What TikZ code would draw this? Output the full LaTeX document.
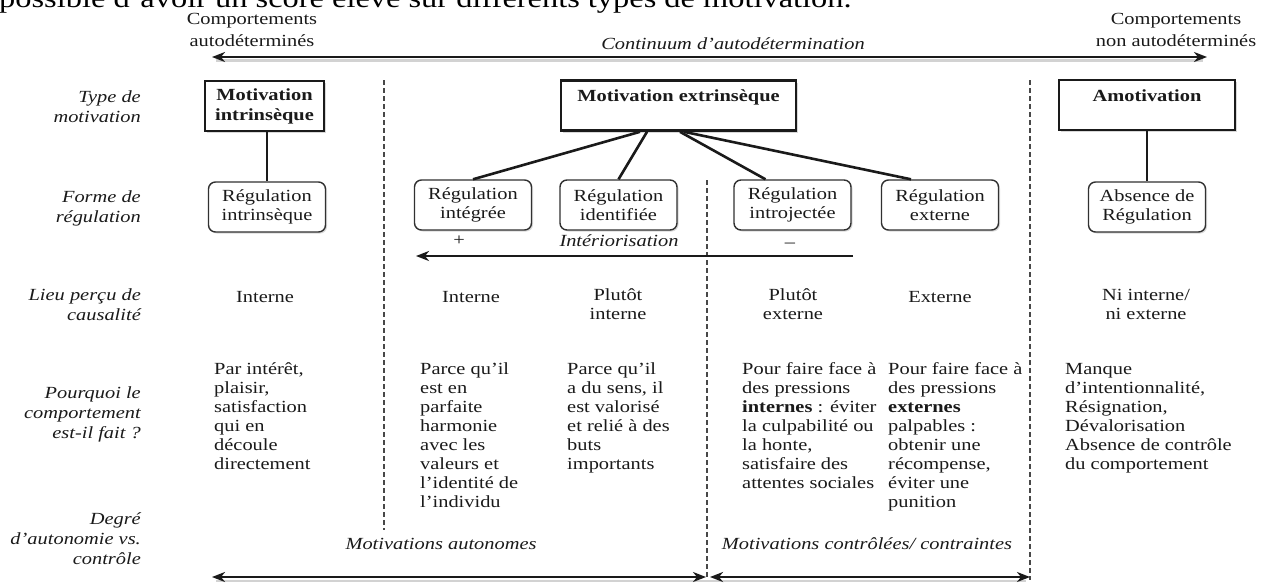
\documentclass[tikz,border=0pt]{standalone}
\usepackage{fontspec}
\setmainfont{Liberation Serif}[FakeStretch=1.2]
\usetikzlibrary{arrows.meta,shadows,calc}
\definecolor{ink}{HTML}{1A1A1A}
\begin{document}
\begin{tikzpicture}[x=1pt,y=-1pt,
  basetxt/.style={inner sep=0pt, text=ink},
  txt/.style={basetxt, font=\fontsize{17}{19}\selectfont, execute at begin node={\strut}},
  itl/.style={txt, font=\itshape\fontsize{17}{19}\selectfont},
  lab/.style={basetxt, font=\itshape\fontsize{17}{20}\selectfont, execute at begin node={\strut}, align=right, anchor=north east},
  hdr/.style={basetxt, font=\fontsize{17}{22.5}\selectfont, execute at begin node={\strut}, align=center, anchor=north},
  para/.style={txt, align=left, anchor=north west},
  ctr/.style={txt, align=center, anchor=north},
  motbox/.style={draw=ink, line width=2.6pt, fill=white, inner sep=0pt, minimum height=50pt,
    font=\bfseries\fontsize{17}{20}\selectfont, text=ink,
    drop shadow={shadow xshift=1.5pt, shadow yshift=-2pt, opacity=0.3}},
  regbox/.style={draw=ink!90, line width=1.4pt, rounded corners=7pt, fill=white, inner sep=0pt,
    align=center, font=\fontsize{17}{19}\selectfont, text=ink, minimum width=117pt, minimum height=50pt,
    execute at begin node={\rule{0pt}{20pt}},
    drop shadow={shadow xshift=1.5pt, shadow yshift=-1.5pt, opacity=0.3}},
  conn/.style={draw=ink, line width=2.6pt},
  tip/.tip={Stealth[length=13pt,width=10pt,inset=4pt]},
  bigarrow/.style={draw=ink, line width=2.6pt, tip-tip},
  shade/.style={draw=gray!35, line width=2.5pt},
  divider/.style={draw=ink!80, line width=1.1pt, dash pattern=on 5pt off 3pt}
]
\clip (0,0) rectangle (1263,584);
\fill[white] (0,0) rectangle (1263,584);

% clipped sentence at the top
\node[basetxt, text=black, font=\fontsize{27}{30}\selectfont, anchor=base west] (title) at (-1,7.5)
  {possible d’avoir un score élevé sur différents types de motivation.};

% headers
\node[hdr] (cl) at (252,13) {Comportements\\autodéterminés};
\node[hdr] (cr) at (1176,13) {Comportements\\non autodéterminés};
\node[itl] (cont) at (733,46) {Continuum d’autodétermination};
\coordinate (tl) at (212,57);
\coordinate (tr) at (1207,57);
\draw[shade] (216,60.5) -- (1203,60.5);
\draw[bigarrow] (tl) -- (tr);

% left labels
\node[lab] (l1) at (141,91) {Type de\\motivation};
\node[lab] (l2) at (141,190) {Forme de\\régulation};
\node[lab] (l3) at (141,288) {Lieu perçu de\\causalité};
\node[lab] (l4) at (141,386) {Pourquoi le\\comportement\\est-il fait ?};
\node[lab] (l5) at (141,512) {Degré\\d’autonomie vs.\\contrôle};

% dividers
\draw[divider] (384,80) -- (384,530);
\draw[divider] (707,180) -- (707,580);
\draw[divider] (1030,80) -- (1030,580);

% type boxes
\node[motbox, align=center, minimum width=119pt] (mi) at (264.5,106) {Motivation\\intrinsèque};
\node[motbox, minimum width=235pt, text height=12pt, text depth=20pt] (me) at (678.5,105.5) {Motivation extrinsèque};
\node[motbox, minimum width=176pt, text height=12pt, text depth=20pt] (am) at (1147,105) {Amotivation};

% regulation boxes
\node[regbox] (ri) at (267,207) {Régulation\\intrinsèque};
\node[regbox] (rg) at (473,205) {Régulation\\intégrée};
\node[regbox] (rd) at (618.5,205) {Régulation\\identifiée};
\node[regbox] (rj) at (792.5,205) {Régulation\\introjectée};
\node[regbox] (rx) at (940,205) {Régulation\\externe};
\node[regbox] (ra) at (1147,207) {Absence de\\Régulation};

% connectors
\draw[conn] (ri.north |- mi.south) -- (ri.north);
\draw[conn] (am.south) -- (ra.north);
\draw[conn] ([xshift=-38.5pt]me.south) -- (rg.north);
\draw[conn] ([xshift=-31.5pt]me.south) -- (rd.north);
\draw[conn] ([xshift=1.5pt]me.south) -- ([xshift=-27pt]rj.north);
\draw[conn] ([xshift=5.5pt]me.south) -- ([xshift=-29pt]rx.north);

% internalisation
\node[txt] (plus) at (459,242) {+};
\node[itl] (inter) at (619,243) {Intériorisation};
\node[txt] (minus) at (790,244) {–};
\coordinate (ia) at (853,256);
\coordinate (ib) at (416,256);
\draw[conn, -tip] (ia) -- (ib);

% perceived locus
\node[ctr] (c1) at (265,288.7) {Interne};
\node[ctr] (c2) at (471,288.7) {Interne};
\node[ctr] (c3) at (618,288.7) {Plutôt\\interne};
\node[ctr] (c4) at (793,288.7) {Plutôt\\externe};
\node[ctr] (c5) at (940,288.7) {Externe};
\node[ctr] (c6) at (1146,288.7) {Ni interne/\\ni externe};

% why
\node[para] (w1) at (214,362.7) {Par intérêt,\\plaisir,\\satisfaction\\qui en\\découle\\directement};
\node[para] (w2) at (420,362.7) {Parce qu’il\\est en\\parfaite\\harmonie\\avec les\\valeurs et\\l’identité de\\l’individu};
\node[para] (w3) at (567,362.7) {Parce qu’il\\a du sens, il\\est valorisé\\et relié à des\\buts\\importants};
\node[para] (w4) at (742,362.7) {Pour faire face à\\des pressions\\\textbf{internes} : éviter\\la culpabilité ou\\la honte,\\satisfaire des\\attentes sociales};
\node[para] (w5) at (888,362.7) {Pour faire face à\\des pressions\\\textbf{externes}\\palpables :\\obtenir une\\récompense,\\éviter une\\punition};
\node[para] (w6) at (1065,362.7) {Manque\\d’intentionnalité,\\Résignation,\\Dévalorisation\\Absence de contrôle\\du comportement};

% autonomy vs control
\node[itl] (ma) at (441,546) {Motivations autonomes};
\node[itl] (mc) at (867,546) {Motivations contrôlées/ contraintes};
\coordinate (bl) at (212,577);
\coordinate (bm1) at (706,577);
\coordinate (bm2) at (710,577);
\coordinate (br) at (1030,577);
\draw[shade] (216,581) -- (1026,581);
\draw[bigarrow] (bl) -- (bm1);
\draw[bigarrow] (bm2) -- (br);
\end{tikzpicture}
\end{document}
